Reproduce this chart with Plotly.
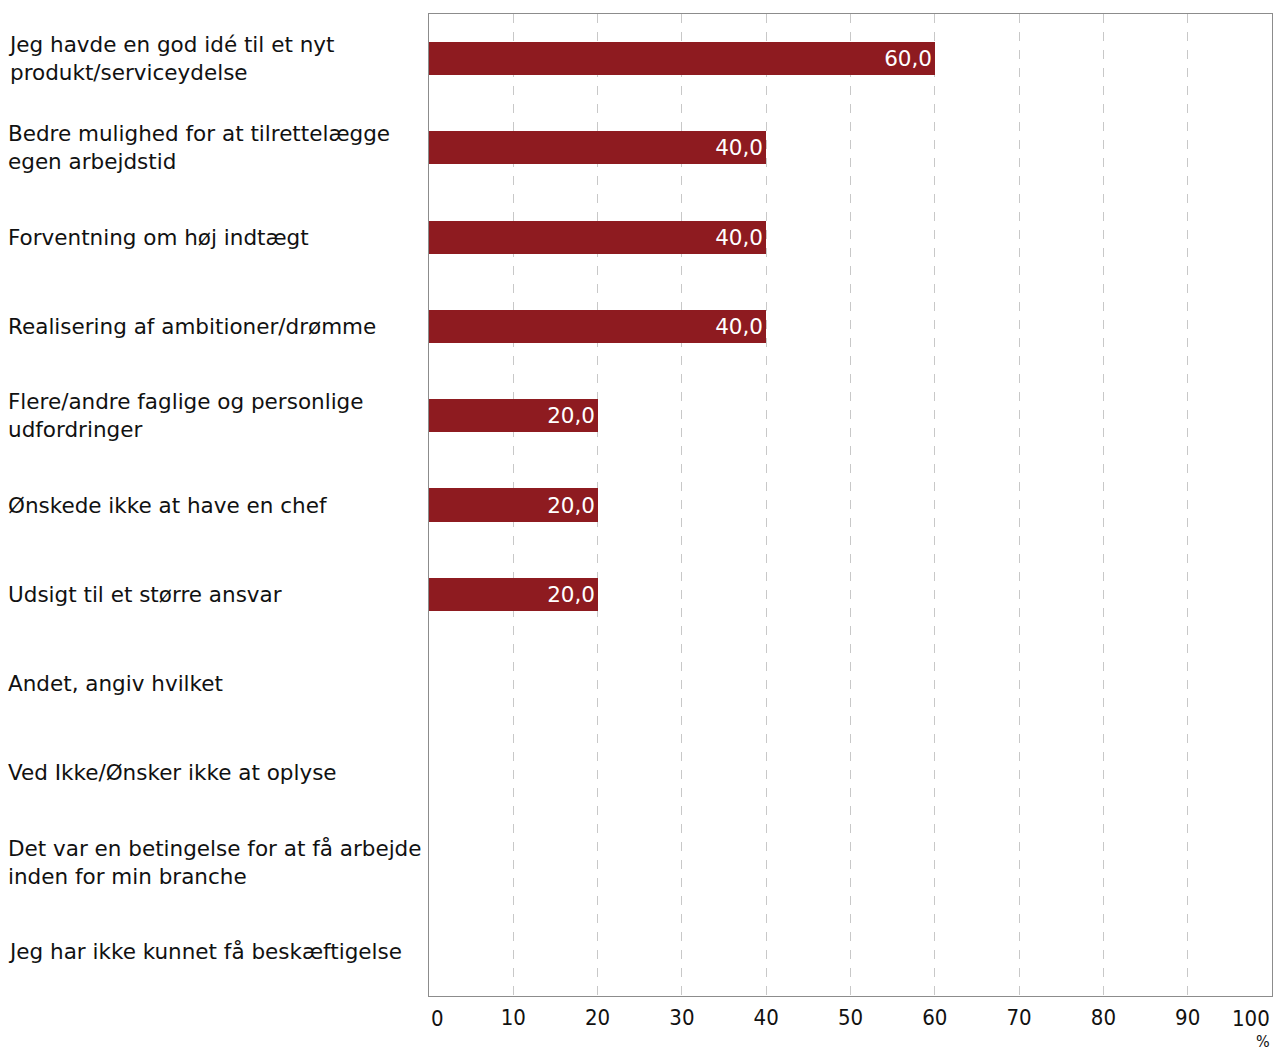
import plotly.graph_objects as go

categories = [
    "Jeg havde en god idé til et nyt<br>produkt/serviceydelse",
    "Bedre mulighed for at tilrettelægge<br>egen arbejdstid",
    "Forventning om høj indtægt",
    "Realisering af ambitioner/drømme",
    "Flere/andre faglige og personlige<br>udfordringer",
    "Ønskede ikke at have en chef",
    "Udsigt til et større ansvar",
    "Andet, angiv hvilket",
    "Ved Ikke/Ønsker ikke at oplyse",
    "Det var en betingelse for at få arbejde<br>inden for min branche",
    "Jeg har ikke kunnet få beskæftigelse",
]
values = [60.0, 40.0, 40.0, 40.0, 20.0, 20.0, 20.0, None, None, None, None]
tick_vals = [10, 20, 30, 40, 50, 60, 70, 80, 90]
tick_text = ["10", "20", "30", "40", "50", "60", "70", "80", "90"]

FONT = "DejaVu Sans, Verdana, sans-serif"
TFONT = "DejaVu Sans Condensed, DejaVu Sans, sans-serif"
W, H = 1273, 1050
L, R, T, B = 429, 1, 14, 54
plot_w = W - L - R
plot_h = H - T - B

labels = [("" if v is None else f"{v:.1f}".replace(".", ",")) for v in values]

fig = go.Figure()
fig.add_trace(go.Bar(
    y=list(range(len(categories))),
    x=[0 if v is None else v for v in values],
    orientation="h",
    width=0.37,
    marker=dict(color="#8E1B20", line=dict(width=0)),
    text=labels,
    textposition="inside",
    insidetextanchor="end",
    textfont=dict(color="white", size=21.5, family=FONT),
    hoverinfo="skip",
))

annotations = []
for i, c in enumerate(categories):
    annotations.append(dict(
        x=-(L - 6) / plot_w, xref="paper", y=i, yref="y",
        text=c, showarrow=False, xanchor="left", yanchor="middle", align="left",
        font=dict(size=21.5, family=FONT, color="#111111"),
    ))
annotations.append(dict(x=0, xref="x", y=-22 / plot_h, yref="paper", text="0",
                        showarrow=False, xanchor="left", yanchor="middle",
                        font=dict(size=22, family=TFONT, color="#111111")))
annotations.append(dict(x=100, xref="x", y=-22 / plot_h, yref="paper", text="100",
                        showarrow=False, xanchor="right", yanchor="middle",
                        font=dict(size=22, family=TFONT, color="#111111")))
annotations.append(dict(x=100, xref="x", y=-45 / plot_h, yref="paper", text="%",
                        showarrow=False, xanchor="right", yanchor="middle",
                        font=dict(size=16, family=TFONT, color="#111111")))

fig.update_layout(
    width=W, height=H,
    margin=dict(l=L, r=R, t=T, b=B, pad=0),
    paper_bgcolor="white", plot_bgcolor="white",
    showlegend=False,
    bargap=0,
    annotations=annotations,
    xaxis=dict(
        range=[0, 100], tickvals=tick_vals, ticktext=tick_text,
        showgrid=True, gridcolor="#c8c8c8", griddash="dash", gridwidth=1,
        showline=True, linecolor="#8c8c8c", linewidth=1, mirror=True,
        ticks="", zeroline=False, ticklabelstandoff=2,
        tickfont=dict(size=22, family=TFONT, color="#111111"),
    ),
    yaxis=dict(
        range=[len(categories) - 0.5, -0.5],
        showticklabels=False, showgrid=False, zeroline=False,
        showline=True, linecolor="#8c8c8c", linewidth=1, mirror=True, ticks="",
    ),
)

fig.write_html("out.html", config={"displayModeBar": False},
               post_script="document.body.style.margin='0';document.body.style.padding='0';")
